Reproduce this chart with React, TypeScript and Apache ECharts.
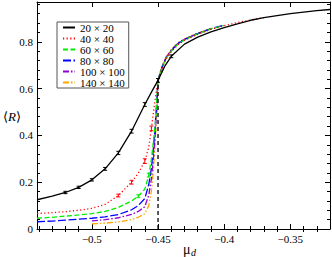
import React, { useEffect, useRef } from "react";
import * as echarts from "echarts";

const X_MIN = -0.5415;
const X_MAX = -0.32;
const Y_MIN = 0;
const Y_MAX = 0.97;

const xTicksMajor = [-0.5, -0.45, -0.4, -0.35];
const xTicksMinor = [-0.54, -0.53, -0.52, -0.51, -0.49, -0.48, -0.47, -0.46, -0.44, -0.43, -0.42, -0.41, -0.39, -0.38, -0.37, -0.36, -0.34, -0.33];
const yTicksMajor = [0, 0.2, 0.4, 0.6, 0.8];
const yTicksMinor = [0.04, 0.08, 0.12, 0.16, 0.24, 0.28, 0.32, 0.36, 0.44, 0.48, 0.52, 0.56, 0.64, 0.68, 0.72, 0.76, 0.84, 0.88, 0.92, 0.96];

const seriesNames = ["20 × 20", "40 × 40", "60 × 60", "80 × 80", "100 × 100", "140 × 140"];
const seriesColors = ["#000000", "#ff0000", "#00ee00", "#0000ff", "#9400d3", "#ffa500"];

const x20 = [-0.5415, -0.53, -0.52, -0.51, -0.5, -0.49, -0.48, -0.47, -0.46, -0.455, -0.45, -0.445, -0.44, -0.43, -0.42, -0.41, -0.4, -0.39, -0.38, -0.37, -0.36, -0.35, -0.34, -0.33, -0.32];
const y20 = [0.125, 0.14, 0.156, 0.178, 0.21, 0.257, 0.325, 0.418, 0.532, 0.585, 0.635, 0.695, 0.738, 0.79, 0.82, 0.842, 0.86, 0.877, 0.892, 0.903, 0.912, 0.92, 0.927, 0.933, 0.938];

const x40 = [-0.5415, -0.53, -0.52, -0.51, -0.5, -0.49, -0.48, -0.47, -0.465, -0.46, -0.457, -0.455, -0.453, -0.451, -0.45, -0.448, -0.446, -0.444, -0.44, -0.435, -0.43, -0.42, -0.41, -0.4, -0.39, -0.38, -0.37];
const y40 = [0.066, 0.07, 0.074, 0.08, 0.088, 0.105, 0.143, 0.2, 0.238, 0.29, 0.35, 0.43, 0.52, 0.6, 0.635, 0.668, 0.7, 0.726, 0.758, 0.787, 0.806, 0.832, 0.853, 0.869, 0.882, 0.893, 0.903];

const x60 = [-0.5415, -0.53, -0.52, -0.51, -0.5, -0.49, -0.48, -0.47, -0.465, -0.46, -0.457, -0.455, -0.4535, -0.452, -0.451, -0.45, -0.448, -0.446, -0.444, -0.44, -0.435, -0.43, -0.42, -0.41, -0.4];
const y60 = [0.046, 0.05, 0.055, 0.06, 0.066, 0.075, 0.092, 0.12, 0.14, 0.17, 0.23, 0.3, 0.375, 0.45, 0.55, 0.635, 0.672, 0.703, 0.728, 0.76, 0.79, 0.808, 0.834, 0.855, 0.87];

const x80 = [-0.5415, -0.53, -0.52, -0.51, -0.5, -0.49, -0.48, -0.47, -0.465, -0.46, -0.457, -0.455, -0.4535, -0.4523, -0.451, -0.45, -0.448, -0.446, -0.444, -0.44, -0.435, -0.43, -0.42, -0.41, -0.4];
const y80 = [0.031, 0.034, 0.038, 0.042, 0.046, 0.052, 0.062, 0.082, 0.1, 0.13, 0.19, 0.26, 0.345, 0.43, 0.54, 0.635, 0.674, 0.705, 0.73, 0.762, 0.792, 0.81, 0.835, 0.856, 0.871];

const x100 = [-0.5, -0.49, -0.48, -0.47, -0.465, -0.46, -0.457, -0.455, -0.4535, -0.4523, -0.451, -0.45, -0.448, -0.446, -0.444, -0.44, -0.435, -0.43, -0.42, -0.41];
const y100 = [0.035, 0.04, 0.048, 0.062, 0.075, 0.095, 0.145, 0.215, 0.3, 0.39, 0.51, 0.635, 0.676, 0.707, 0.732, 0.764, 0.794, 0.811, 0.836, 0.856];

const x140 = [-0.5, -0.49, -0.48, -0.47, -0.465, -0.46, -0.457, -0.455, -0.4535, -0.4525, -0.4515, -0.4505, -0.45, -0.448, -0.446, -0.444, -0.44, -0.435, -0.43, -0.42, -0.41];
const y140 = [0.022, 0.025, 0.03, 0.04, 0.05, 0.065, 0.1, 0.165, 0.25, 0.34, 0.43, 0.55, 0.635, 0.678, 0.709, 0.734, 0.766, 0.796, 0.812, 0.837, 0.857];

// error bars: x, y, half-error
const errX20 = [-0.52, -0.51, -0.5, -0.49, -0.48, -0.47, -0.46, -0.45, -0.44];
const errY20 = [0.156, 0.178, 0.21, 0.257, 0.325, 0.418, 0.532, 0.635, 0.738];
const errE20 = [0.005, 0.005, 0.005, 0.006, 0.007, 0.008, 0.008, 0.008, 0.006];
const errX40 = [-0.48, -0.47, -0.46, -0.455];
const errY40 = [0.143, 0.2, 0.29, 0.43];
const errE40 = [0.006, 0.008, 0.01, 0.01];
const errX60 = [-0.465, -0.457];
const errY60 = [0.14, 0.23];
const errE60 = [0.006, 0.008];

const criticalX = [-0.45, -0.45];
const criticalY = [0, 0.635];

const dashes: any[] = ["solid", [1.2, 2.4], [5, 2.5], [8, 2.5], [6, 2, 1.5, 2], [6, 2, 1.5, 2, 1.5, 2]];

const FONT = "Liberation Serif";

function zip(xs: number[], ys: number[]) {
  return xs.map((x, i) => [x, ys[i]]);
}

function fmt(v: number) {
  const a = Number(Math.abs(v).toFixed(2));
  return (v < 0 ? "\u2212" : "") + String(a);
}

export default function App() {
  const ref = useRef<HTMLDivElement>(null);
  useEffect(() => {
    if (!ref.current) return;
    const chart = echarts.init(ref.current, undefined, { renderer: "svg" });
    const lineSets = [
      [x20, y20],
      [x40, y40],
      [x60, y60],
      [x80, y80],
      [x100, y100],
      [x140, y140],
    ];
    const lineSeries = lineSets.map(([xs, ys], i) => ({
      type: "line",
      name: seriesNames[i],
      data: zip(xs, ys),
      showSymbol: false,
      symbol: "none",
      z: 10 - i,
      lineStyle: { color: seriesColors[i], width: 1.3, type: dashes[i] },
      itemStyle: { color: seriesColors[i] },
      xAxisIndex: 0,
      yAxisIndex: 0,
    }));
    const errSets = [
      [errX20, errY20, errE20, seriesColors[0]],
      [errX40, errY40, errE40, seriesColors[1]],
      [errX60, errY60, errE60, seriesColors[2]],
    ] as any[];
    const errSeries = errSets.map(([xs, ys, es, col], k) => ({
      type: "custom",
      name: "err" + k,
      xAxisIndex: 0,
      yAxisIndex: 0,
      z: 20,
      data: xs.map((x: number, i: number) => [x, ys[i], es[i]]),
      renderItem: (params: any, api: any) => {
        const x = api.value(0);
        const y = api.value(1);
        const e = api.value(2);
        const lo = api.coord([x, y - e]);
        const hi = api.coord([x, y + e]);
        const c = api.coord([x, y]);
        const style = { stroke: col, lineWidth: 1 };
        return {
          type: "group",
          children: [
            { type: "line", shape: { x1: lo[0], y1: lo[1], x2: hi[0], y2: hi[1] }, style },
            { type: "line", shape: { x1: c[0] - 2, y1: lo[1], x2: c[0] + 2, y2: lo[1] }, style },
            { type: "line", shape: { x1: c[0] - 2, y1: hi[1], x2: c[0] + 2, y2: hi[1] }, style },
          ],
        };
      },
    }));
    const critSeries = {
      type: "line",
      name: "critical",
      data: zip(criticalX, criticalY),
      showSymbol: false,
      symbol: "none",
      z: 15,
      lineStyle: { color: "#000", width: 1.3, type: [4, 3] },
      xAxisIndex: 0,
      yAxisIndex: 0,
    };

    const baseX = { type: "value", min: X_MIN, max: X_MAX, splitLine: { show: false } };
    const baseY = { type: "value", min: Y_MIN, max: Y_MAX, splitLine: { show: false } };
    const axLine = { show: true, onZero: false, lineStyle: { color: "#000", width: 1 } };
    const tickStyle = { color: "#000", width: 1 };

    chart.setOption({
      animation: false,
      textStyle: { fontFamily: FONT },
      grid: { left: 37, right: 2, top: 2, bottom: 28 },
      legend: {
        data: seriesNames,
        orient: "vertical",
        left: 57,
        top: 22,
        padding: [0, 4, 0, 5],
        itemWidth: 12,
        itemHeight: 8,
        itemGap: 0,
        borderColor: "#555",
        borderWidth: 1,
        borderRadius: 0,
        selectedMode: false,
        itemStyle: { opacity: 0 },
        textStyle: { fontFamily: FONT, fontSize: 11, color: "#000", lineHeight: 10.8 },
      },
      xAxis: [
        {
          ...baseX,
          position: "bottom",
          axisLine: axLine,
          axisTick: { show: true, inside: true, length: 5, lineStyle: tickStyle, customValues: xTicksMajor },
          axisLabel: { show: true, margin: 4, fontFamily: FONT, fontSize: 11, color: "#000", customValues: xTicksMajor, formatter: fmt },
        },
        {
          ...baseX,
          position: "bottom",
          axisLine: { show: false },
          axisTick: { show: true, inside: true, length: 3, lineStyle: tickStyle, customValues: xTicksMinor },
          axisLabel: { show: false },
        },
        {
          ...baseX,
          position: "top",
          axisLine: axLine,
          axisTick: { show: true, inside: true, length: 5, lineStyle: tickStyle, customValues: xTicksMajor },
          axisLabel: { show: false },
        },
        {
          ...baseX,
          position: "top",
          axisLine: { show: false },
          axisTick: { show: true, inside: true, length: 3, lineStyle: tickStyle, customValues: xTicksMinor },
          axisLabel: { show: false },
        },
      ],
      yAxis: [
        {
          ...baseY,
          position: "left",
          axisLine: axLine,
          axisTick: { show: true, inside: true, length: 5, lineStyle: tickStyle, customValues: yTicksMajor },
          axisLabel: { show: true, margin: 4, fontFamily: FONT, fontSize: 11, color: "#000", customValues: yTicksMajor, formatter: fmt },
        },
        {
          ...baseY,
          position: "left",
          axisLine: { show: false },
          axisTick: { show: true, inside: true, length: 3, lineStyle: tickStyle, customValues: yTicksMinor },
          axisLabel: { show: false },
        },
        {
          ...baseY,
          position: "right",
          axisLine: axLine,
          axisTick: { show: true, inside: true, length: 5, lineStyle: tickStyle, customValues: yTicksMajor },
          axisLabel: { show: false },
        },
        {
          ...baseY,
          position: "right",
          axisLine: { show: false },
          axisTick: { show: true, inside: true, length: 3, lineStyle: tickStyle, customValues: yTicksMinor },
          axisLabel: { show: false },
        },
      ],
      graphic: [
        {
          type: "text",
          left: 3,
          top: 110,
          style: {
            text: "⟨{i|R}⟩",
            rich: { i: { fontStyle: "italic", fontFamily: FONT, fontSize: 13, fill: "#000" } },
            fontFamily: FONT,
            fontSize: 13,
            fill: "#000",
          },
        },
        {
          type: "text",
          left: 183,
          top: 242,
          style: { text: "μ", fontFamily: FONT, fontSize: 14, fill: "#000" },
        },
        {
          type: "text",
          left: 191,
          top: 247,
          style: { text: "d", fontFamily: FONT, fontSize: 10, fontStyle: "italic", fill: "#000" },
        },
      ],
      series: [...lineSeries, critSeries, ...errSeries],
    });
    return () => chart.dispose();
  }, []);
  return (
    <div
      ref={ref}
      style={{ position: "fixed", left: 0, top: 0, width: 332, height: 257, background: "#fff" }}
    />
  );
}
